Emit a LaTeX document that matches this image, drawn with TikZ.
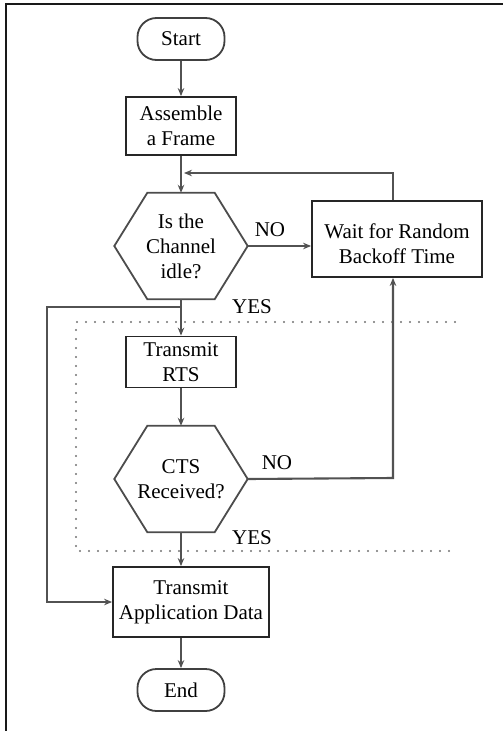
\documentclass[tikz,border=0pt]{standalone}
\usepackage{fontspec}
\setmainfont{Liberation Serif}
\usetikzlibrary{arrows.meta}

\tikzset{
  every node/.style={font=\fontsize{21}{25}\selectfont, align=center, inner sep=0pt},
  boxnode/.style={draw=black!85, line width=1.8pt, rectangle, fill=white},
  termnode/.style={draw=black!75, line width=1.8pt, rectangle, rounded corners=19pt,
                   minimum width=87pt, minimum height=42pt},
  hexarea/.style={rectangle, minimum width=133pt, minimum height=106pt},
  hexline/.style={draw=black!70, line width=1.8pt, line join=miter},
  flow/.style={draw=black!68, line width=2.1pt, -{Stealth[length=8pt,width=6.5pt]}},
  zone/.style={draw=black!55, line width=2.2pt, line cap=round, dash pattern=on 0pt off 9pt},
  tag/.style={font=\fontsize{21}{25}\selectfont}
}

% hexagonal decision outline around a named node
\newcommand\hexoutline[1]{%
  \draw[hexline] ([xshift=33pt]#1.north west) -- ([xshift=-33pt]#1.north east)
    -- (#1.east) -- ([xshift=-33pt]#1.south east) -- ([xshift=33pt]#1.south west)
    -- (#1.west) -- cycle;}

\begin{document}
\begin{tikzpicture}[x=1pt, y=-1pt]
  \useasboundingbox (0,0) rectangle (503,731);

  % page frame (left and top edges only)
  \draw[line width=2.2pt, black!90] (6,731) -- (6,4) -- (503,4);

  % process steps
  \node[termnode] (start) at (181,39) {Start};
  \node[boxnode, minimum width=110pt, minimum height=58pt] (assemble) at (181,126) {Assemble\\a Frame};
  \node[hexarea] (idle) at (181,246) {Is the\\Channel\\idle?};
  \hexoutline{idle}
  \node[boxnode, minimum width=170pt, minimum height=76pt] (wait) at (397,239) {};
  \node (waitlabel) at (397,244) {Wait for Random\\Backoff Time};
  \node[boxnode, minimum width=110pt, minimum height=51pt] (rts) at (181,362) {Transmit\\RTS};
  \node[hexarea] (cts) at (181,479) {CTS\\Received?};
  \hexoutline{cts}
  \node[boxnode, minimum width=156pt, minimum height=70pt] (app) at (191,602) {Transmit\\Application Data};
  \node[termnode] (end) at (181,690) {End};

  % RTS/CTS exchange region
  \draw[zone] (455,322) -- (76,322) -- (76,551) -- (455,551);

  % helper points for the routed connectors
  \coordinate (merge) at (184,173);
  \coordinate (riser) at (393,478);
  \coordinate (split) at (181,307);
  \coordinate (bypass) at (47,307);

  % main flow
  \draw[flow] (start) -- (assemble);
  \draw[flow] (assemble) -- (idle.north);
  \draw[flow] (idle.south) -- (rts);
  \draw[flow] (rts) -- (cts.north);
  \draw[flow] (cts.south) -- (cts.south |- app.north);
  \draw[flow] (end.north |- app.south) -- (end);

  % channel busy: back off and retry
  \draw[flow] (idle.east) -- (idle.east -| wait.west);
  \draw[flow] (riser |- wait.north) |- (merge);
  \draw[flow] (cts.east) -- (riser) -- (riser |- wait.south);

  % channel idle: skip straight to data
  \draw[flow] (split) -- (bypass) |- (app.west);

  % branch labels
  \node[tag] (no1) at (270,230) {NO};
  \node[tag] (yes1) at (252,307) {YES};
  \node[tag] (no2) at (277,463) {NO};
  \node[tag] (yes2) at (252,538) {YES};
\end{tikzpicture}
\end{document}
